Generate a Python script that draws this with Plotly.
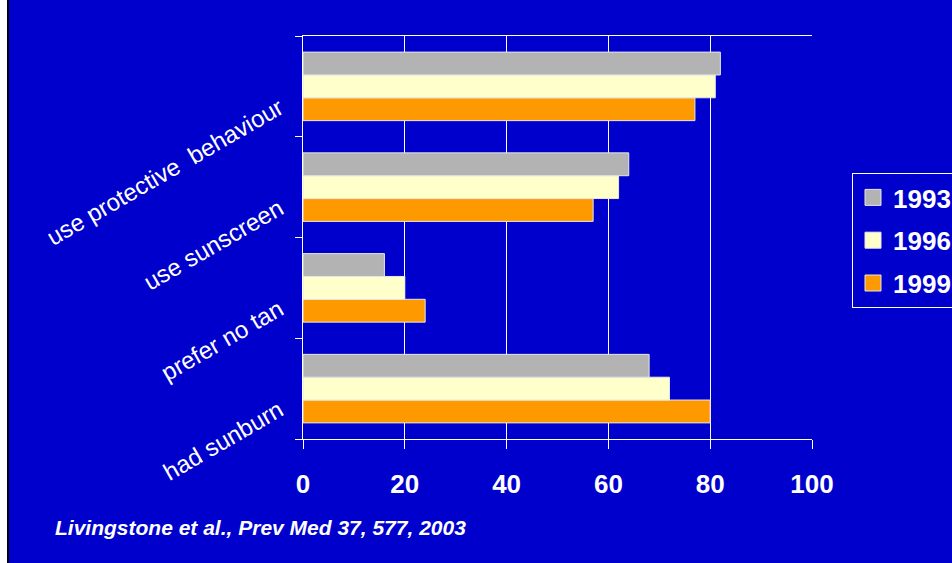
import plotly.graph_objects as go

# Survey items, bottom to top on the category axis
categories = ["had sunburn", "prefer no tan", "use sunscreen", "use protective  behaviour"]

# Percentages per survey year (same order as categories)
y1993 = [68, 16, 64, 82]
y1996 = [72, 20, 62, 81]
y1999 = [80, 24, 57, 77]

years = ["1993", "1996", "1999"]
colors = {"1993": "#B3B3B3", "1996": "#FFFFCC", "1999": "#FF9900"}
values = {"1993": y1993, "1996": y1996, "1999": y1999}

x_ticks = [0, 20, 40, 60, 80, 100]

W, H = 952, 563
L, R, T, B = 303, 140, 36, 124
BG = "#0000CC"
OUTLINE = "#E6E6E6"

fig = go.Figure()
# Added last-first so 1993 sits at the top of each group
for yr in reversed(years):
    fig.add_trace(go.Bar(
        y=categories, x=values[yr], name=yr, orientation="h",
        marker=dict(color=colors[yr], line=dict(color=OUTLINE, width=1)),
        showlegend=False,
    ))

# Legend keys with larger square swatches
for yr in years:
    fig.add_trace(go.Scatter(
        x=[None], y=[None], mode="markers", name=yr, legendgroup=yr,
        marker=dict(symbol="square", size=17, color=colors[yr],
                    line=dict(color=OUTLINE, width=1)),
        showlegend=True,
    ))

pw = W - L - R
ph = H - T - B

fig.update_layout(
    width=W, height=H,
    margin=dict(l=L, r=R, t=T, b=B, pad=0, autoexpand=False),
    paper_bgcolor=BG, plot_bgcolor=BG,
    barmode="group", bargap=0.32, bargroupgap=0,
    font=dict(family="Arial, Liberation Sans, sans-serif", color="white"),
    showlegend=True,
    legend=dict(
        traceorder="grouped",
        x=(852 - L) / pw, y=(H - B - 173) / ph, xanchor="left", yanchor="top",
        bgcolor=BG, bordercolor="white", borderwidth=1,
        font=dict(size=26, color="white", family="Arial, Liberation Sans, sans-serif", weight="bold"),
        tracegroupgap=6, itemwidth=30,
    ),
    xaxis=dict(
        range=[0, 100], tickvals=x_ticks, ticktext=[str(v) for v in x_ticks],
        showgrid=True, gridcolor="white", gridwidth=1,
        showline=True, linecolor="white", linewidth=1, mirror=True,
        ticks="outside", ticklen=9, tickcolor="white",
        tickfont=dict(size=26, color="white", weight="bold"),
        ticklabelstandoff=13, zeroline=False, fixedrange=True,
    ),
    yaxis=dict(
        categoryorder="array", categoryarray=categories,
        showgrid=False, showline=True, linecolor="white", linewidth=1,
        ticks="outside", ticklen=7, tickcolor="white", tickson="boundaries",
        tickangle=-30, tickfont=dict(size=24, color="white"),
        ticklabelstandoff=18, ticklabelshift=19, fixedrange=True,
    ),
    annotations=[dict(
        text="<b><i>Livingstone et al., Prev Med 37, 577, 2003</i></b>",
        xref="paper", yref="paper",
        x=(53 - L) / pw, y=(H - B - 527) / ph, xanchor="left", yanchor="middle",
        showarrow=False, font=dict(size=21, color="white"),
    )],
    shapes=[
        dict(type="rect", xref="paper", yref="paper", layer="above",
             x0=(0 - L) / pw, x1=(7 - L) / pw,
             y0=(H - B - H) / ph, y1=(H - B) / ph,
             fillcolor="white", line=dict(width=0)),
        dict(type="rect", xref="paper", yref="paper", layer="above",
             x0=(7 - L) / pw, x1=(9 - L) / pw,
             y0=(H - B - H) / ph, y1=(H - B) / ph,
             fillcolor="black", line=dict(width=0)),
    ],
)

fig.write_html("out.html")
